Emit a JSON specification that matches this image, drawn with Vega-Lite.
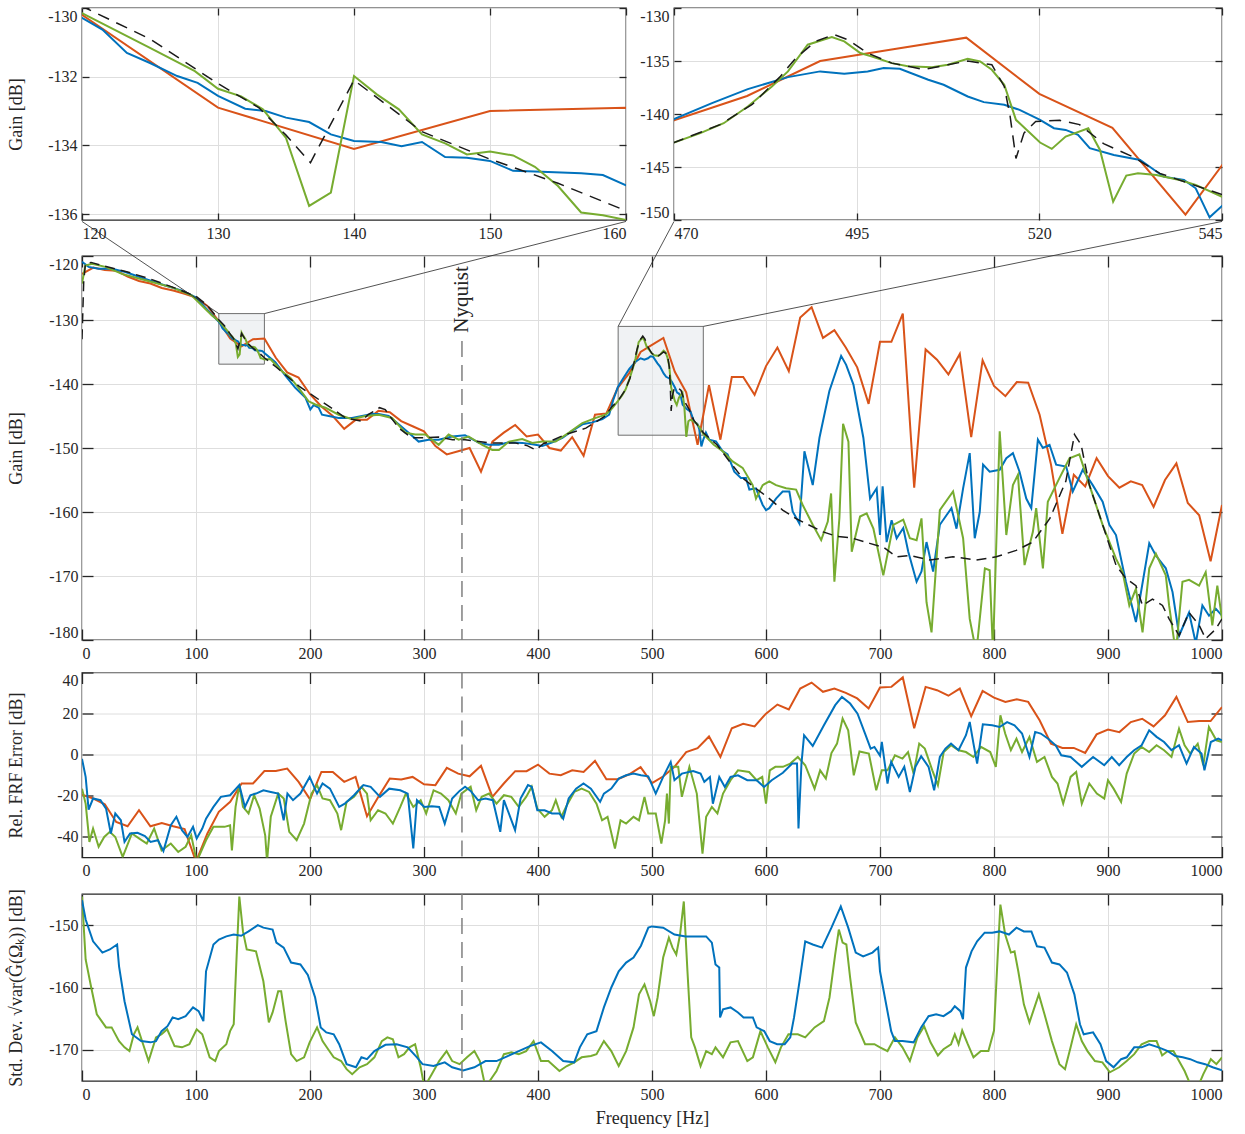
{
"$schema":"https://vega.github.io/schema/vega-lite/v6.json",
"padding":{"left":6,"top":6,"right":4,"bottom":4},
"background":"white",
"config":{
 "font":"Liberation Serif",
 "view":{"stroke":"#262626","strokeWidth":1.3},
 "axis":{"labelFont":"Liberation Serif","labelFontSize":16,"labelColor":"#262626","titleFont":"Liberation Serif","titleFontSize":18,"titleFontWeight":"normal","titleColor":"#262626","gridColor":"#dedede","gridWidth":1,"domain":false,"tickColor":"#262626","tickWidth":1.3,"labelFlush":true,"labelFlushOffset":0},
 "axisTop":{"labels":false,"grid":false},
 "axisRight":{"labels":false,"grid":false}
},
"datasets":{
"mt":[{"f":0,"g":-133},{"f":1.5,"g":-124},{"f":3,"g":-121.2},{"f":8,"g":-121.0},{"f":20,"g":-121.6},{"f":40,"g":-122.5},{"f":60,"g":-123.6},{"f":80,"g":-124.9},{"f":100,"g":-126.3},{"f":110,"g":-127.7},{"f":120,"g":-129.95},{"f":125,"g":-130.9},{"f":130,"g":-132.2},{"f":133,"g":-132.9},{"f":135,"g":-133.7},{"f":136.8,"g":-134.5},{"f":140,"g":-132.1},{"f":145,"g":-133.6},{"f":150,"g":-134.4},{"f":155,"g":-135.1},{"f":160,"g":-135.9},{"f":170,"g":-137.3},{"f":178,"g":-138.5},{"f":190,"g":-140.3},{"f":200,"g":-141.5},{"f":210,"g":-142.7},{"f":220,"g":-143.9},{"f":231,"g":-145.3},{"f":245,"g":-145.8},{"f":251,"g":-144.8},{"f":261,"g":-143.7},{"f":266,"g":-144.0},{"f":270,"g":-145.0},{"f":278,"g":-146.9},{"f":289,"g":-148.4},{"f":301,"g":-148.4},{"f":313,"g":-148.3},{"f":325,"g":-148.7},{"f":336,"g":-148.7},{"f":357,"g":-149.2},{"f":380,"g":-149.2},{"f":390,"g":-149.6},{"f":398,"g":-150.3},{"f":405,"g":-149.3},{"f":410,"g":-149.0},{"f":424,"g":-147.9},{"f":442,"g":-146.9},{"f":459,"g":-145.0},{"f":465,"g":-143.5},{"f":470,"g":-142.7},{"f":476.3,"g":-141.0},{"f":480.7,"g":-139.1},{"f":484.5,"g":-136.5},{"f":486.7,"g":-134.7},{"f":489.4,"g":-133.15},{"f":491.9,"g":-132.5},{"f":493.8,"g":-133.0},{"f":496.5,"g":-134.25},{"f":499.8,"g":-135.2},{"f":504.2,"g":-135.8},{"f":507.5,"g":-135.35},{"f":510.2,"g":-135.0},{"f":513.5,"g":-135.35},{"f":515.2,"g":-137.4},{"f":516,"g":-140.2},{"f":516.8,"g":-144.2},{"f":517.9,"g":-141.8},{"f":519.5,"g":-140.7},{"f":522.8,"g":-140.6},{"f":525.5,"g":-141.0},{"f":528.8,"g":-142.8},{"f":532.7,"g":-144.0},{"f":536.5,"g":-145.6},{"f":540.3,"g":-146.5},{"f":545,"g":-147.6},{"f":557,"g":-149.5},{"f":568,"g":-152.1},{"f":579.5,"g":-154.7},{"f":591,"g":-156.3},{"f":603,"g":-157.9},{"f":614.6,"g":-159.7},{"f":626,"g":-161.0},{"f":635,"g":-161.8},{"f":650,"g":-163.1},{"f":662,"g":-163.8},{"f":674,"g":-164.0},{"f":691,"g":-164.9},{"f":703,"g":-165.5},{"f":714.6,"g":-167.0},{"f":726,"g":-166.8},{"f":744,"g":-167.5},{"f":764,"g":-167.0},{"f":784.5,"g":-167.5},{"f":802,"g":-167.0},{"f":819.5,"g":-166.0},{"f":834,"g":-164.7},{"f":849,"g":-161.0},{"f":863,"g":-155.2},{"f":870.6,"g":-147.9},{"f":876.4,"g":-149.5},{"f":883.7,"g":-155.8},{"f":895.3,"g":-162.0},{"f":907,"g":-168.3},{"f":915.7,"g":-170.4},{"f":924.5,"g":-171.5},{"f":930.3,"g":-174.6},{"f":939,"g":-173.6},{"f":947.8,"g":-174.6},{"f":953.6,"g":-176.7},{"f":962.4,"g":-179.3},{"f":971,"g":-175.7},{"f":980,"g":-177.7},{"f":985.7,"g":-179.8},{"f":994.5,"g":-178.3},{"f":1000,"g":-176.7}],
"mr":[{"f":0,"g":-122.8},{"f":10,"g":-121.8},{"f":20,"g":-122.2},{"f":30,"g":-122.3},{"f":40,"g":-123.2},{"f":50,"g":-123.9},{"f":60,"g":-124.3},{"f":70,"g":-125.0},{"f":80,"g":-125.4},{"f":90,"g":-125.9},{"f":100,"g":-126.5},{"f":110,"g":-127.8},{"f":120,"g":-130.2},{"f":130,"g":-132.9},{"f":140,"g":-134.1},{"f":150,"g":-133.0},{"f":160,"g":-132.9},{"f":170,"g":-135.9},{"f":180,"g":-138.2},{"f":190,"g":-139.0},{"f":200,"g":-141.6},{"f":210,"g":-143.5},{"f":220,"g":-145.0},{"f":230,"g":-147.0},{"f":240,"g":-145.6},{"f":250,"g":-145.6},{"f":260,"g":-144.2},{"f":270,"g":-144.4},{"f":280,"g":-145.8},{"f":290,"g":-146.6},{"f":300,"g":-147.4},{"f":310,"g":-149.7},{"f":320,"g":-151.0},{"f":330,"g":-150.5},{"f":340,"g":-150.0},{"f":350,"g":-153.7},{"f":360,"g":-149.0},{"f":370,"g":-147.6},{"f":380,"g":-146.4},{"f":390,"g":-148.2},{"f":400,"g":-147.9},{"f":410,"g":-150.0},{"f":420,"g":-150.4},{"f":430,"g":-148.3},{"f":440,"g":-151.2},{"f":450,"g":-144.8},{"f":460,"g":-144.6},{"f":470,"g":-140.6},{"f":480,"g":-138.3},{"f":490,"g":-135.0},{"f":500,"g":-133.9},{"f":510,"g":-132.8},{"f":520,"g":-138.1},{"f":530,"g":-141.3},{"f":540,"g":-149.5},{"f":550,"g":-140.2},{"f":560,"g":-148.7},{"f":570,"g":-138.9},{"f":580,"g":-138.9},{"f":590,"g":-141.7},{"f":600,"g":-137.2},{"f":610,"g":-134.3},{"f":620,"g":-138.0},{"f":630,"g":-129.6},{"f":640,"g":-128.0},{"f":650,"g":-132.8},{"f":660,"g":-131.6},{"f":670,"g":-134.3},{"f":680,"g":-137.4},{"f":690,"g":-143.1},{"f":700,"g":-133.4},{"f":710,"g":-133.4},{"f":720,"g":-129.0},{"f":730,"g":-156.2},{"f":740,"g":-134.6},{"f":750,"g":-136.2},{"f":760,"g":-138.5},{"f":770,"g":-135.3},{"f":780,"g":-148.3},{"f":790,"g":-136.3},{"f":800,"g":-140.3},{"f":810,"g":-141.9},{"f":820,"g":-139.7},{"f":830,"g":-139.8},{"f":840,"g":-144.8},{"f":850,"g":-152.6},{"f":860,"g":-163.4},{"f":870,"g":-154.2},{"f":880,"g":-156.0},{"f":890,"g":-151.6},{"f":900,"g":-154.4},{"f":910,"g":-156.2},{"f":920,"g":-155.2},{"f":930,"g":-155.8},{"f":940,"g":-159.2},{"f":950,"g":-155.0},{"f":960,"g":-152.4},{"f":970,"g":-158.6},{"f":980,"g":-160.5},{"f":990,"g":-167.7},{"f":1000,"g":-158.9}],
"mb":[{"f":0,"g":-120.9},{"f":5.8,"g":-121.7},{"f":14.6,"g":-122.0},{"f":26.3,"g":-122.0},{"f":38,"g":-122.5},{"f":55.6,"g":-123.6},{"f":73,"g":-124.6},{"f":87.7,"g":-125.4},{"f":99.4,"g":-126.4},{"f":110.5,"g":-128.5},{"f":120,"g":-130.29},{"f":121.5,"g":-130.63},{"f":123.3,"g":-131.31},{"f":125,"g":-131.6},{"f":127,"g":-131.98},{"f":128.5,"g":-132.18},{"f":130,"g":-132.56},{"f":132,"g":-132.93},{"f":133.5,"g":-133.0},{"f":135,"g":-133.19},{"f":136.7,"g":-133.32},{"f":138.3,"g":-133.68},{"f":140,"g":-133.87},{"f":142,"g":-133.9},{"f":143.5,"g":-134.02},{"f":145,"g":-133.9},{"f":146.7,"g":-134.34},{"f":148.3,"g":-134.36},{"f":150,"g":-134.45},{"f":151.7,"g":-134.74},{"f":153.3,"g":-134.76},{"f":156.7,"g":-134.81},{"f":158.3,"g":-134.86},{"f":160,"g":-135.16},{"f":169.6,"g":-136.6},{"f":178.4,"g":-138.7},{"f":187.1,"g":-140.6},{"f":195.9,"g":-142.1},{"f":200.3,"g":-144.0},{"f":203.2,"g":-143.3},{"f":207.6,"g":-143.7},{"f":210.5,"g":-144.8},{"f":216.4,"g":-145.0},{"f":225.1,"g":-145.3},{"f":236.8,"g":-145.3},{"f":245.6,"g":-145.0},{"f":254.4,"g":-144.7},{"f":260.2,"g":-144.7},{"f":269,"g":-145.0},{"f":277.8,"g":-146.3},{"f":286.5,"g":-147.6},{"f":295.3,"g":-149.0},{"f":304.1,"g":-148.7},{"f":312.9,"g":-148.7},{"f":324.6,"g":-148.2},{"f":336,"g":-148.0},{"f":348.2,"g":-149.2},{"f":357,"g":-149.5},{"f":365.7,"g":-149.5},{"f":374.5,"g":-149.1},{"f":386.2,"g":-149.2},{"f":395,"g":-149.4},{"f":403.8,"g":-149.7},{"f":412.6,"g":-149.1},{"f":421.4,"g":-148.4},{"f":430.2,"g":-147.3},{"f":439,"g":-146.3},{"f":447.7,"g":-146.0},{"f":456.5,"g":-145.5},{"f":462.4,"g":-144.8},{"f":466,"g":-142.5},{"f":470,"g":-140.49},{"f":475.2,"g":-138.98},{"f":480.1,"g":-137.65},{"f":485.6,"g":-136.52},{"f":490,"g":-135.98},{"f":493.3,"g":-136.2},{"f":496.5,"g":-135.98},{"f":498.7,"g":-135.67},{"f":500.9,"g":-135.73},{"f":504.8,"g":-136.77},{"f":506.9,"g":-137.24},{"f":510.2,"g":-138.35},{"f":512.4,"g":-138.88},{"f":515.2,"g":-139.13},{"f":517.3,"g":-139.61},{"f":520.1,"g":-140.55},{"f":522,"g":-141.34},{"f":523.6,"g":-141.5},{"f":525.3,"g":-141.97},{"f":526.9,"g":-143.23},{"f":530.2,"g":-143.86},{"f":533.8,"g":-144.33},{"f":535.4,"g":-145.12},{"f":537,"g":-145.91},{"f":539.8,"g":-146.22},{"f":541.4,"g":-147.01},{"f":543.3,"g":-149.75},{"f":545,"g":-148.68},{"f":547.3,"g":-147.6},{"f":550.2,"g":-148.7},{"f":556.1,"g":-148.95},{"f":562,"g":-150.5},{"f":566.3,"g":-151.0},{"f":572.2,"g":-153.7},{"f":578,"g":-154.7},{"f":582.4,"g":-154.7},{"f":585.4,"g":-156.5},{"f":591.2,"g":-156.3},{"f":597.1,"g":-158.9},{"f":600,"g":-159.7},{"f":602.9,"g":-159.4},{"f":608.8,"g":-157.9},{"f":614.6,"g":-156.8},{"f":620.5,"g":-156.8},{"f":623.4,"g":-159.9},{"f":629.3,"g":-161.8},{"f":633.7,"g":-150.5},{"f":641,"g":-155.8},{"f":646.9,"g":-148.4},{"f":655.6,"g":-141.1},{"f":665.9,"g":-135.6},{"f":670.3,"g":-137.0},{"f":676.7,"g":-140.1},{"f":685.4,"g":-148.4},{"f":691.3,"g":-157.9},{"f":697.1,"g":-156.3},{"f":700,"g":-163.6},{"f":702.3,"g":-156.0},{"f":705.8,"g":-164.7},{"f":710.2,"g":-161.3},{"f":714.6,"g":-164.1},{"f":720.4,"g":-162.5},{"f":724.8,"g":-166.2},{"f":732.1,"g":-170.9},{"f":736.4,"g":-169.3},{"f":740.8,"g":-164.7},{"f":746.6,"g":-169.3},{"f":752.5,"g":-162.0},{"f":758.3,"g":-160.5},{"f":762.7,"g":-159.4},{"f":767.1,"g":-162.6},{"f":772.9,"g":-156.3},{"f":778.7,"g":-150.8},{"f":783.1,"g":-164.1},{"f":787.5,"g":-160.0},{"f":790.4,"g":-152.6},{"f":796.2,"g":-153.7},{"f":805,"g":-153.4},{"f":810.8,"g":-151.6},{"f":816.6,"g":-150.8},{"f":822.4,"g":-153.7},{"f":828.3,"g":-157.9},{"f":832.7,"g":-159.4},{"f":838.5,"g":-148.7},{"f":842.9,"g":-150.0},{"f":848.7,"g":-149.5},{"f":854.5,"g":-152.6},{"f":863.3,"g":-152.9},{"f":869.1,"g":-156.8},{"f":877.8,"g":-153.4},{"f":886.6,"g":-155.8},{"f":895.3,"g":-158.4},{"f":901.2,"g":-162.0},{"f":907,"g":-163.6},{"f":915.7,"g":-170.9},{"f":924.5,"g":-177.2},{"f":936.2,"g":-164.9},{"f":942,"g":-166.8},{"f":950.7,"g":-168.8},{"f":956.6,"g":-172.5},{"f":962.4,"g":-179.3},{"f":971.1,"g":-175.7},{"f":977,"g":-180.5},{"f":982.8,"g":-174.6},{"f":988.6,"g":-176.2},{"f":994.5,"g":-175.1},{"f":1000,"g":-176.2}],
"mg":[{"f":0,"g":-124.3},{"f":2.9,"g":-121.5},{"f":8.8,"g":-121.2},{"f":20.5,"g":-121.7},{"f":35.1,"g":-122.8},{"f":55.6,"g":-123.8},{"f":78.9,"g":-124.9},{"f":96.5,"g":-126.2},{"f":114,"g":-129.3},{"f":120,"g":-130.15},{"f":125,"g":-131.16},{"f":128.3,"g":-131.84},{"f":130,"g":-132.35},{"f":131.7,"g":-132.57},{"f":133.3,"g":-132.95},{"f":135,"g":-133.78},{"f":136.7,"g":-135.76},{"f":138.3,"g":-135.37},{"f":140,"g":-131.98},{"f":141.7,"g":-132.52},{"f":143.3,"g":-132.95},{"f":145,"g":-133.68},{"f":146.7,"g":-133.94},{"f":148.3,"g":-134.26},{"f":150,"g":-134.18},{"f":151.7,"g":-134.29},{"f":153.3,"g":-134.62},{"f":155,"g":-135.18},{"f":156.7,"g":-135.95},{"f":158.3,"g":-136.03},{"f":160,"g":-136.17},{"f":165.2,"g":-136.1},{"f":175.4,"g":-138.0},{"f":182.7,"g":-139.0},{"f":190,"g":-140.6},{"f":198.8,"g":-142.7},{"f":204.7,"g":-143.2},{"f":213.5,"g":-143.7},{"f":225.1,"g":-144.8},{"f":236.8,"g":-145.5},{"f":248.5,"g":-145.0},{"f":260.2,"g":-144.8},{"f":271.9,"g":-145.3},{"f":283.6,"g":-147.6},{"f":292.4,"g":-147.9},{"f":301.2,"g":-147.9},{"f":312.9,"g":-149.5},{"f":321.6,"g":-147.9},{"f":330.4,"g":-148.7},{"f":339.2,"g":-148.2},{"f":351.1,"g":-149.5},{"f":359.9,"g":-150.3},{"f":365.7,"g":-150.3},{"f":374.5,"g":-149.0},{"f":386.2,"g":-148.6},{"f":395,"g":-149.2},{"f":403.8,"g":-149.0},{"f":415.5,"g":-149.0},{"f":427.2,"g":-147.6},{"f":438.9,"g":-146.1},{"f":450.7,"g":-145.3},{"f":459.4,"g":-144.8},{"f":465,"g":-143.8},{"f":470,"g":-142.69},{"f":473.6,"g":-141.81},{"f":476.8,"g":-140.87},{"f":480.1,"g":-139.29},{"f":483.4,"g":-137.4},{"f":485.6,"g":-135.98},{"f":488.3,"g":-133.46},{"f":491.6,"g":-132.74},{"f":493.3,"g":-133.15},{"f":495.5,"g":-134.25},{"f":497.1,"g":-134.57},{"f":499.8,"g":-135.2},{"f":502,"g":-135.5},{"f":505.3,"g":-135.6},{"f":507.5,"g":-135.35},{"f":510.2,"g":-134.79},{"f":511.9,"g":-135.04},{"f":513.5,"g":-135.83},{"f":515.2,"g":-137.24},{"f":516.8,"g":-140.55},{"f":520.1,"g":-142.69},{"f":521.7,"g":-143.29},{"f":523.6,"g":-142.13},{"f":526.7,"g":-141.34},{"f":528.3,"g":-143.39},{"f":530.1,"g":-148.27},{"f":531.9,"g":-145.81},{"f":533.5,"g":-145.59},{"f":536,"g":-145.75},{"f":539.2,"g":-146.22},{"f":541.4,"g":-146.69},{"f":545,"g":-147.8},{"f":554.2,"g":-149.5},{"f":562,"g":-150.5},{"f":570.7,"g":-152.1},{"f":579.5,"g":-153.1},{"f":588.3,"g":-155.8},{"f":591.2,"g":-157.9},{"f":597.1,"g":-155.8},{"f":602.9,"g":-155.2},{"f":608.8,"g":-155.8},{"f":617.6,"g":-156.3},{"f":626.4,"g":-156.5},{"f":632.2,"g":-158.9},{"f":641,"g":-162.0},{"f":648.4,"g":-164.4},{"f":654.2,"g":-161.5},{"f":657.1,"g":-157.1},{"f":660,"g":-170.9},{"f":664.4,"g":-160.9},{"f":667.6,"g":-146.2},{"f":672.3,"g":-149.0},{"f":675.2,"g":-166.2},{"f":682.5,"g":-160.7},{"f":688.3,"g":-160.2},{"f":694.2,"g":-162.6},{"f":702.9,"g":-169.9},{"f":711.7,"g":-162.0},{"f":720.4,"g":-161.2},{"f":726.2,"g":-164.1},{"f":732.1,"g":-164.4},{"f":736.4,"g":-161.0},{"f":740.8,"g":-174.1},{"f":745.2,"g":-178.8},{"f":752.5,"g":-159.7},{"f":764.1,"g":-156.8},{"f":772.9,"g":-164.1},{"f":778.7,"g":-176.7},{"f":784.5,"g":-182},{"f":792,"g":-168.8},{"f":796.2,"g":-169.1},{"f":799.1,"g":-182},{"f":805,"g":-147.4},{"f":810.8,"g":-163.6},{"f":816.6,"g":-155.8},{"f":821,"g":-154.2},{"f":826.8,"g":-168.3},{"f":834.1,"g":-163.1},{"f":837,"g":-159.4},{"f":842.9,"g":-168.8},{"f":847.2,"g":-158.4},{"f":857.4,"g":-154.7},{"f":866.2,"g":-151.6},{"f":874.9,"g":-151.0},{"f":883.7,"g":-155.8},{"f":895.3,"g":-162.0},{"f":907,"g":-167.3},{"f":912.8,"g":-169.4},{"f":918.7,"g":-174.6},{"f":924.5,"g":-172.0},{"f":930.3,"g":-178.8},{"f":936.2,"g":-168.8},{"f":942,"g":-166.5},{"f":950.7,"g":-169.9},{"f":953.6,"g":-174.6},{"f":959.5,"g":-182},{"f":965.3,"g":-170.9},{"f":971.1,"g":-170.6},{"f":979.9,"g":-171.5},{"f":985.7,"g":-169.4},{"f":991.5,"g":-177.7},{"f":995.9,"g":-171.5},{"f":1000,"g":-176.7}],
"er":[{"f":0,"g":-19.5},{"f":10,"g":-21.3},{"f":20,"g":-24.1},{"f":30,"g":-32.7},{"f":40,"g":-34.8},{"f":50,"g":-27.0},{"f":60,"g":-34.8},{"f":70,"g":-33.2},{"f":80,"g":-34.8},{"f":90,"g":-36.2},{"f":100,"g":-52},{"f":110,"g":-38.3},{"f":120,"g":-27.8},{"f":130,"g":-22.9},{"f":140,"g":-14.0},{"f":150,"g":-14.0},{"f":160,"g":-7.9},{"f":170,"g":-7.9},{"f":180,"g":-6.7},{"f":190,"g":-13.2},{"f":200,"g":-21.7},{"f":210,"g":-8.4},{"f":220,"g":-8.4},{"f":230,"g":-13.2},{"f":240,"g":-10.8},{"f":250,"g":-29.9},{"f":260,"g":-20.5},{"f":270,"g":-11.6},{"f":280,"g":-12.1},{"f":290,"g":-10.8},{"f":300,"g":-14.4},{"f":310,"g":-14.8},{"f":320,"g":-6.4},{"f":330,"g":-9.2},{"f":340,"g":-10.5},{"f":350,"g":-5.4},{"f":360,"g":-20.5},{"f":370,"g":-14.0},{"f":380,"g":-8.0},{"f":390,"g":-8.0},{"f":400,"g":-4.8},{"f":410,"g":-9.2},{"f":420,"g":-10.0},{"f":430,"g":-7.6},{"f":440,"g":-8.4},{"f":450,"g":-3.0},{"f":460,"g":-11.9},{"f":470,"g":-11.9},{"f":480,"g":-9.5},{"f":490,"g":-6.0},{"f":500,"g":-13.8},{"f":510,"g":-10.5},{"f":520,"g":-5.7},{"f":530,"g":1.3},{"f":540,"g":3.2},{"f":550,"g":8.9},{"f":560,"g":-1.1},{"f":570,"g":12.9},{"f":580,"g":15.0},{"f":590,"g":13.8},{"f":600,"g":20.0},{"f":610,"g":24.4},{"f":620,"g":22.0},{"f":630,"g":32.2},{"f":640,"g":35.1},{"f":650,"g":30.6},{"f":660,"g":32.2},{"f":670,"g":30.1},{"f":680,"g":27.4},{"f":690,"g":22.5},{"f":700,"g":32.7},{"f":710,"g":33.0},{"f":720,"g":37.6},{"f":730,"g":12.9},{"f":740,"g":33.0},{"f":750,"g":31.4},{"f":760,"g":28.7},{"f":770,"g":32.2},{"f":780,"g":18.7},{"f":790,"g":31.0},{"f":800,"g":27.8},{"f":810,"g":25.7},{"f":820,"g":27.0},{"f":830,"g":25.7},{"f":840,"g":16.8},{"f":850,"g":5.4},{"f":860,"g":3.3},{"f":870,"g":3.3},{"f":880,"g":0.9},{"f":890,"g":9.9},{"f":900,"g":12.2},{"f":910,"g":11.0},{"f":920,"g":15.9},{"f":930,"g":17.5},{"f":940,"g":13.8},{"f":950,"g":19.2},{"f":960,"g":28.1},{"f":970,"g":15.9},{"f":980,"g":16.4},{"f":990,"g":16.4},{"f":1000,"g":23.2}],
"eb":[{"f":0,"g":-2},{"f":3.2,"g":-10.8},{"f":5.8,"g":-26.7},{"f":9.7,"g":-21.3},{"f":16.2,"g":-22.1},{"f":21.1,"g":-26.2},{"f":25.3,"g":-38.3},{"f":29.2,"g":-28.6},{"f":34.1,"g":-31.9},{"f":37.3,"g":-42.4},{"f":42.2,"g":-38.3},{"f":48.7,"g":-38.0},{"f":55.2,"g":-39.6},{"f":60.1,"g":-42.4},{"f":66.6,"g":-41.6},{"f":71.4,"g":-46.8},{"f":77.9,"g":-34.3},{"f":82.8,"g":-30.2},{"f":87.7,"g":-36.7},{"f":92.5,"g":-40.0},{"f":97.4,"g":-35.1},{"f":100.6,"g":-40.8},{"f":105.5,"g":-35.9},{"f":108.8,"g":-31.1},{"f":115.3,"g":-25.4},{"f":121.8,"g":-20.5},{"f":129.9,"g":-19.7},{"f":138,"g":-14.8},{"f":142.9,"g":-25.4},{"f":147.7,"g":-19.7},{"f":152.6,"g":-18.9},{"f":159.1,"g":-17.3},{"f":165.6,"g":-18.1},{"f":172.1,"g":-18.9},{"f":176.9,"g":-31.9},{"f":180.2,"g":-18.9},{"f":185.1,"g":-22.1},{"f":191.6,"g":-18.9},{"f":199.7,"g":-10.8},{"f":206.2,"g":-18.9},{"f":211,"g":-14.0},{"f":217.5,"g":-16.5},{"f":225.6,"g":-25.4},{"f":230.5,"g":-23.8},{"f":238.6,"g":-19.7},{"f":246.8,"g":-14.8},{"f":253.2,"g":-15.6},{"f":261.4,"g":-20.5},{"f":269.5,"g":-16.5},{"f":279.2,"g":-17.3},{"f":285.7,"g":-18.9},{"f":290.6,"g":-45.6},{"f":293.8,"g":-22.1},{"f":300.3,"g":-25.4},{"f":306.8,"g":-25.1},{"f":313.3,"g":-25.4},{"f":318.2,"g":-33.5},{"f":324.7,"g":-21.3},{"f":331.2,"g":-17.6},{"f":336,"g":-15.6},{"f":340.9,"g":-17.6},{"f":347.4,"g":-22.1},{"f":353.9,"g":-21.3},{"f":360.4,"g":-22.1},{"f":366.9,"g":-37.5},{"f":370.1,"g":-22.1},{"f":379.9,"g":-36.7},{"f":384.7,"g":-21.3},{"f":391.2,"g":-14.8},{"f":394.5,"g":-15.6},{"f":399.4,"g":-27.0},{"f":405.8,"g":-27.0},{"f":412.3,"g":-28.6},{"f":418.8,"g":-28.6},{"f":422.1,"g":-31.1},{"f":426.9,"g":-21.3},{"f":433.4,"g":-16.5},{"f":439.9,"g":-14.0},{"f":446.4,"g":-16.5},{"f":454.5,"g":-22.9},{"f":457.8,"g":-18.9},{"f":464.3,"g":-16.5},{"f":470.8,"g":-11.6},{"f":477.3,"g":-10.0},{"f":483.8,"g":-9.2},{"f":490.3,"g":-10.0},{"f":496.7,"g":-10.5},{"f":503.3,"g":-18.9},{"f":509.8,"g":-10.8},{"f":516.4,"g":-3.5},{"f":519.7,"g":-12.4},{"f":526.2,"g":-9.2},{"f":536.1,"g":-7.9},{"f":542.6,"g":-9.2},{"f":545.9,"g":-13.2},{"f":550.8,"g":-10.8},{"f":553.4,"g":-23.8},{"f":559,"g":-10.8},{"f":563.9,"g":-15.7},{"f":568.9,"g":-10.8},{"f":575.4,"g":-10.0},{"f":583.6,"g":-12.4},{"f":591.8,"g":-12.4},{"f":598.4,"g":-15.7},{"f":605,"g":-12.4},{"f":614.8,"g":-8.8},{"f":623,"g":-4.3},{"f":627.2,"g":-4.3},{"f":628.5,"g":-35.9},{"f":631.1,"g":-4.3},{"f":633.4,"g":9.5},{"f":641,"g":4.3},{"f":650.8,"g":14.3},{"f":660.7,"g":24.1},{"f":666.6,"g":28.1},{"f":673.8,"g":24.9},{"f":680.3,"g":20.0},{"f":686.9,"g":10.3},{"f":691.8,"g":3.0},{"f":695.1,"g":3.8},{"f":700,"g":-0.5},{"f":701.6,"g":6.2},{"f":706.6,"g":-14.0},{"f":709.8,"g":-3.5},{"f":716.4,"g":-10.8},{"f":721.3,"g":-5.9},{"f":726.2,"g":-18.1},{"f":731.1,"g":-5.9},{"f":736.1,"g":-0.7},{"f":742.6,"g":-5.9},{"f":747.5,"g":-17.3},{"f":752.5,"g":-1.1},{"f":757.4,"g":3.0},{"f":762.3,"g":5.4},{"f":768.9,"g":2.2},{"f":775.4,"g":9.5},{"f":778.7,"g":15.9},{"f":782,"g":5.4},{"f":785.2,"g":-4.3},{"f":790.2,"g":14.8},{"f":798.4,"g":14.3},{"f":804.9,"g":13.5},{"f":811.5,"g":15.9},{"f":818,"g":14.3},{"f":824.6,"g":10.3},{"f":831.1,"g":-1.1},{"f":836.1,"g":11.1},{"f":841,"g":10.3},{"f":847.5,"g":7.8},{"f":854.1,"g":4.6},{"f":859,"g":-0.3},{"f":867.2,"g":-1.1},{"f":877,"g":-5.9},{"f":886.9,"g":-1.1},{"f":896.7,"g":-5.1},{"f":903.3,"g":-1.1},{"f":909.8,"g":-5.1},{"f":916.4,"g":-1.1},{"f":922.9,"g":2.2},{"f":929.5,"g":4.6},{"f":936.1,"g":11.9},{"f":942.6,"g":8.7},{"f":949.2,"g":6.2},{"f":955.7,"g":2.2},{"f":962.3,"g":4.6},{"f":968.9,"g":-4.3},{"f":975.4,"g":3.8},{"f":982,"g":0.6},{"f":984.6,"g":-7.6},{"f":990.2,"g":6.2},{"f":996.7,"g":7.8},{"f":1000,"g":7.0}],
"eg":[{"f":0,"g":-16.5},{"f":3.2,"g":-23.8},{"f":6.5,"g":-42.4},{"f":9.7,"g":-35.9},{"f":14.6,"g":-44.8},{"f":19.5,"g":-40.0},{"f":24.4,"g":-37.5},{"f":29.2,"g":-40.0},{"f":35.7,"g":-49.7},{"f":43.8,"g":-38.3},{"f":50.3,"g":-40.8},{"f":56.8,"g":-43.2},{"f":63.3,"g":-35.9},{"f":69.8,"g":-46.5},{"f":77.9,"g":-43.2},{"f":84.4,"g":-47.3},{"f":90.9,"g":-44.8},{"f":95.8,"g":-39.2},{"f":100.6,"g":-52},{"f":108.8,"g":-41.6},{"f":115.3,"g":-35.1},{"f":125,"g":-35.1},{"f":129.9,"g":-34.3},{"f":131.5,"g":-46.5},{"f":134.7,"g":-25.4},{"f":138,"g":-14.8},{"f":141.2,"g":-25.4},{"f":146.1,"g":-28.6},{"f":151,"g":-19.7},{"f":155.8,"g":-26.2},{"f":160.7,"g":-39.2},{"f":162.3,"g":-52},{"f":165.6,"g":-30.2},{"f":172.1,"g":-18.9},{"f":177,"g":-21.3},{"f":181.8,"g":-37.5},{"f":188.3,"g":-41.6},{"f":194.8,"g":-33.5},{"f":201.3,"g":-18.9},{"f":206.2,"g":-14.8},{"f":211,"g":-21.3},{"f":217.5,"g":-22.1},{"f":224,"g":-28.6},{"f":227.3,"g":-36.7},{"f":232.1,"g":-22.9},{"f":238.6,"g":-20.5},{"f":245.1,"g":-15.6},{"f":250,"g":-18.9},{"f":253.2,"g":-31.9},{"f":259.7,"g":-27.0},{"f":266.2,"g":-28.6},{"f":272.7,"g":-33.5},{"f":279.2,"g":-25.4},{"f":284.1,"g":-18.9},{"f":290.6,"g":-25.4},{"f":297.1,"g":-22.1},{"f":301.9,"g":-28.6},{"f":308.4,"g":-17.3},{"f":314.9,"g":-18.9},{"f":321.4,"g":-22.1},{"f":327.9,"g":-28.6},{"f":332.8,"g":-18.9},{"f":340.9,"g":-15.6},{"f":345.8,"g":-27.0},{"f":350.6,"g":-20.5},{"f":357.1,"g":-18.9},{"f":363.6,"g":-23.8},{"f":370.1,"g":-19.7},{"f":376.6,"g":-20.5},{"f":383.1,"g":-25.4},{"f":389.6,"g":-20.5},{"f":394.5,"g":-15.6},{"f":399.4,"g":-26.2},{"f":405.8,"g":-30.2},{"f":412.3,"g":-27.0},{"f":415.6,"g":-22.1},{"f":420.5,"g":-30.2},{"f":425.3,"g":-24.6},{"f":431.8,"g":-18.1},{"f":438.3,"g":-16.5},{"f":444.8,"g":-18.1},{"f":451.3,"g":-23.8},{"f":456.2,"g":-31.9},{"f":461,"g":-30.2},{"f":467.5,"g":-45.6},{"f":472.4,"g":-31.9},{"f":477.3,"g":-33.5},{"f":483.8,"g":-30.2},{"f":488.6,"g":-31.9},{"f":493.4,"g":-20.5},{"f":496.7,"g":-28.6},{"f":503.3,"g":-28.6},{"f":508.2,"g":-43.2},{"f":511.5,"g":-31.9},{"f":513.1,"g":-18.9},{"f":514.8,"g":-33.5},{"f":516.4,"g":-5.9},{"f":523,"g":-5.9},{"f":526.2,"g":-20.5},{"f":532.8,"g":-5.9},{"f":539.3,"g":-18.9},{"f":544.3,"g":-48.1},{"f":547.5,"g":-30.2},{"f":552.5,"g":-25.4},{"f":557.4,"g":-28.6},{"f":562.3,"g":-18.9},{"f":568.9,"g":-12.4},{"f":575.4,"g":-7.6},{"f":585.2,"g":-8.4},{"f":591.8,"g":-12.4},{"f":596.7,"g":-10.8},{"f":600,"g":-23.8},{"f":603.3,"g":-7.6},{"f":608.2,"g":-5.9},{"f":614.8,"g":-5.9},{"f":621.3,"g":-4.3},{"f":627.9,"g":-1.1},{"f":634.4,"g":-5.1},{"f":642.6,"g":-16.5},{"f":647.5,"g":-7.6},{"f":652.5,"g":-11.6},{"f":657.4,"g":0.8},{"f":662.3,"g":5.4},{"f":667.2,"g":17.6},{"f":672.1,"g":11.9},{"f":677,"g":-10.0},{"f":682,"g":1.6},{"f":690.2,"g":0.6},{"f":696.7,"g":-17.3},{"f":701.6,"g":-7.6},{"f":706.6,"g":-7.6},{"f":713.1,"g":-0.3},{"f":719.7,"g":-1.9},{"f":724.6,"g":1.3},{"f":729.5,"g":-9.2},{"f":734.4,"g":5.4},{"f":739.3,"g":3.0},{"f":745.9,"g":-7.6},{"f":750.8,"g":-14.8},{"f":755.9,"g":1.3},{"f":762.3,"g":4.6},{"f":768.9,"g":2.2},{"f":775.4,"g":1.3},{"f":782,"g":-1.1},{"f":788.5,"g":3.8},{"f":796.7,"g":1.3},{"f":801.6,"g":-5.9},{"f":805.6,"g":19.2},{"f":809.8,"g":10.3},{"f":814.8,"g":2.2},{"f":819.7,"g":7.8},{"f":824.6,"g":1.3},{"f":831.1,"g":8.6},{"f":837.7,"g":-3.5},{"f":844.3,"g":-1.1},{"f":850.8,"g":-10.8},{"f":855.7,"g":-14.0},{"f":860.7,"g":-23.8},{"f":867.2,"g":-10.8},{"f":872.1,"g":-8.4},{"f":877,"g":-23.8},{"f":883.6,"g":-14.0},{"f":890.2,"g":-18.9},{"f":896.7,"g":-21.3},{"f":900,"g":-12.4},{"f":904.9,"g":-16.5},{"f":911.5,"g":-23.0},{"f":916.4,"g":-9.2},{"f":923,"g":0.6},{"f":929.5,"g":3.8},{"f":936.1,"g":1.3},{"f":942.6,"g":4.6},{"f":949.2,"g":2.2},{"f":955.7,"g":-1.1},{"f":962.3,"g":12.7},{"f":967.2,"g":4.6},{"f":972.1,"g":0.6},{"f":978.7,"g":5.4},{"f":983.6,"g":-5.1},{"f":988.5,"g":13.5},{"f":995.1,"g":7.0},{"f":1000,"g":6.2}],
"sb":[{"f":0,"g":-146},{"f":3.2,"g":-149.1},{"f":9.7,"g":-152.6},{"f":17.9,"g":-154.4},{"f":24.4,"g":-153.9},{"f":30.8,"g":-153.1},{"f":32.5,"g":-156.6},{"f":37.3,"g":-162.2},{"f":43.8,"g":-167.5},{"f":51.9,"g":-168.6},{"f":60.1,"g":-168.8},{"f":64.9,"g":-168.6},{"f":69.8,"g":-167.0},{"f":75,"g":-166.2},{"f":79.5,"g":-164.8},{"f":84.4,"g":-165.1},{"f":90.9,"g":-164.6},{"f":97.4,"g":-163.2},{"f":102.3,"g":-163.8},{"f":106.5,"g":-165.4},{"f":108.8,"g":-157.4},{"f":115.3,"g":-153.1},{"f":120.1,"g":-152.3},{"f":126.6,"g":-151.8},{"f":133.1,"g":-151.5},{"f":139.6,"g":-151.7},{"f":146.1,"g":-151.0},{"f":154.2,"g":-150.0},{"f":159.1,"g":-150.4},{"f":167.2,"g":-150.7},{"f":170.5,"g":-152.8},{"f":176.9,"g":-153.6},{"f":183.4,"g":-156.0},{"f":191.6,"g":-156.3},{"f":198.1,"g":-158.0},{"f":204.5,"g":-161.6},{"f":209.4,"g":-166.4},{"f":214.3,"g":-167.2},{"f":220.8,"g":-167.5},{"f":225.6,"g":-169.1},{"f":232.1,"g":-172.3},{"f":240.3,"g":-172.8},{"f":245.1,"g":-171.2},{"f":250,"g":-171.5},{"f":256.5,"g":-170.2},{"f":266.2,"g":-169.2},{"f":276,"g":-169.1},{"f":285.7,"g":-169.6},{"f":293.8,"g":-171.2},{"f":298.7,"g":-172.3},{"f":308.4,"g":-172.6},{"f":318.2,"g":-172.0},{"f":324.7,"g":-172.8},{"f":334.4,"g":-173.3},{"f":344.2,"g":-172.8},{"f":353.9,"g":-171.8},{"f":363.6,"g":-171.8},{"f":373.4,"g":-171.0},{"f":383.1,"g":-170.2},{"f":392.9,"g":-169.4},{"f":402.6,"g":-168.8},{"f":412.3,"g":-170.2},{"f":422.1,"g":-171.8},{"f":431.8,"g":-172.0},{"f":436.7,"g":-169.6},{"f":443.2,"g":-167.5},{"f":451.3,"g":-167.0},{"f":457.8,"g":-163.2},{"f":464.3,"g":-160.0},{"f":470.8,"g":-157.4},{"f":477.3,"g":-156.0},{"f":483.8,"g":-155.2},{"f":490.3,"g":-153.3},{"f":496.8,"g":-150.4},{"f":500,"g":-150.2},{"f":509.8,"g":-150.4},{"f":519.7,"g":-151.5},{"f":529.5,"g":-151.8},{"f":539.3,"g":-151.8},{"f":547.5,"g":-151.8},{"f":552.5,"g":-152.8},{"f":555.7,"g":-156.3},{"f":559,"g":-156.8},{"f":559.7,"g":-164.8},{"f":562.3,"g":-163.5},{"f":568.9,"g":-163.2},{"f":575.4,"g":-164.0},{"f":580.3,"g":-164.8},{"f":588.5,"g":-164.8},{"f":591.8,"g":-166.4},{"f":598.4,"g":-167.0},{"f":603.3,"g":-168.6},{"f":609.8,"g":-169.1},{"f":616.4,"g":-169.1},{"f":621.3,"g":-168.0},{"f":624.6,"g":-164.8},{"f":629.5,"g":-158.9},{"f":634.4,"g":-152.6},{"f":641,"g":-153.1},{"f":649.2,"g":-153.6},{"f":657.4,"g":-150.4},{"f":665.6,"g":-147.0},{"f":672.1,"g":-150.4},{"f":678.7,"g":-154.4},{"f":685.2,"g":-155.0},{"f":693.4,"g":-154.4},{"f":698.4,"g":-153.6},{"f":700,"g":-157.4},{"f":704.9,"g":-162.2},{"f":709.8,"g":-167.0},{"f":713.1,"g":-168.6},{"f":719.7,"g":-168.6},{"f":729.5,"g":-168.8},{"f":736.1,"g":-166.4},{"f":742.6,"g":-164.6},{"f":749.2,"g":-164.3},{"f":755.7,"g":-164.6},{"f":762.3,"g":-163.8},{"f":765.6,"g":-163.0},{"f":770.5,"g":-163.8},{"f":772.8,"g":-165.1},{"f":775.4,"g":-156.8},{"f":780.3,"g":-154.2},{"f":785.2,"g":-152.6},{"f":791.8,"g":-151.2},{"f":798.4,"g":-151.2},{"f":804.9,"g":-151.0},{"f":813.1,"g":-151.5},{"f":819.7,"g":-150.4},{"f":826.2,"g":-151.0},{"f":832.8,"g":-151.0},{"f":837.7,"g":-153.4},{"f":844.3,"g":-153.6},{"f":850.8,"g":-156.0},{"f":857.4,"g":-156.3},{"f":864,"g":-157.6},{"f":870.5,"g":-161.1},{"f":875.4,"g":-165.9},{"f":878.7,"g":-167.5},{"f":886.9,"g":-167.2},{"f":893.4,"g":-169.1},{"f":898.4,"g":-171.8},{"f":904.9,"g":-172.8},{"f":911.5,"g":-171.5},{"f":916.4,"g":-171.2},{"f":923,"g":-169.6},{"f":929.5,"g":-169.6},{"f":936.1,"g":-169.1},{"f":944.3,"g":-169.6},{"f":952.5,"g":-170.2},{"f":959,"g":-171.0},{"f":965.6,"g":-171.2},{"f":972.1,"g":-171.5},{"f":978.7,"g":-172.0},{"f":985.2,"g":-172.3},{"f":991.8,"g":-172.8},{"f":1000,"g":-173.3}],
"sg":[{"f":0,"g":-145.4},{"f":3.2,"g":-155.5},{"f":8.1,"g":-160.0},{"f":13,"g":-164.3},{"f":21.1,"g":-166.4},{"f":26,"g":-166.4},{"f":32.5,"g":-168.6},{"f":37.3,"g":-169.6},{"f":41.6,"g":-170.2},{"f":45.5,"g":-167.5},{"f":48.7,"g":-166.4},{"f":53.6,"g":-169.1},{"f":58.4,"g":-171.8},{"f":64.9,"g":-168.0},{"f":69.8,"g":-167.5},{"f":74.7,"g":-166.7},{"f":81.2,"g":-169.4},{"f":87.7,"g":-169.6},{"f":94.2,"g":-169.1},{"f":100.6,"g":-166.7},{"f":105.5,"g":-167.5},{"f":112,"g":-171.2},{"f":116.9,"g":-171.8},{"f":120.1,"g":-170.2},{"f":126.6,"g":-169.1},{"f":129.9,"g":-167.0},{"f":133.1,"g":-165.9},{"f":135.7,"g":-154.7},{"f":138,"g":-145.4},{"f":141.2,"g":-151.0},{"f":144.5,"g":-153.9},{"f":152.6,"g":-154.2},{"f":159.1,"g":-159.0},{"f":163.9,"g":-165.6},{"f":167.2,"g":-164.0},{"f":172.1,"g":-160.6},{"f":174.7,"g":-160.6},{"f":178.6,"g":-165.4},{"f":183.4,"g":-170.7},{"f":188.3,"g":-171.8},{"f":194.8,"g":-171.2},{"f":199.7,"g":-168.8},{"f":206.2,"g":-166.4},{"f":211,"g":-168.6},{"f":215.9,"g":-169.9},{"f":220.8,"g":-171.2},{"f":227.3,"g":-171.8},{"f":232.1,"g":-173.1},{"f":237,"g":-173.9},{"f":243.5,"g":-172.8},{"f":250,"g":-172.3},{"f":256.5,"g":-171.2},{"f":263,"g":-168.6},{"f":267.9,"g":-168.0},{"f":272.7,"g":-168.3},{"f":277.6,"g":-171.2},{"f":282.5,"g":-170.7},{"f":287.3,"g":-169.6},{"f":292.2,"g":-169.1},{"f":297.1,"g":-172.8},{"f":300.3,"g":-176},{"f":306.8,"g":-173.9},{"f":313.3,"g":-171.8},{"f":319.8,"g":-170.2},{"f":324.7,"g":-171.8},{"f":331.2,"g":-172.3},{"f":337.7,"g":-171.2},{"f":344.2,"g":-170.2},{"f":349,"g":-171.8},{"f":353.9,"g":-176},{"f":363.6,"g":-173.4},{"f":370.1,"g":-170.7},{"f":376.6,"g":-170.4},{"f":383.1,"g":-170.7},{"f":389.6,"g":-170.2},{"f":396.1,"g":-168.6},{"f":402.6,"g":-171.8},{"f":409.1,"g":-171.8},{"f":418.8,"g":-173.4},{"f":425.3,"g":-172.6},{"f":431.8,"g":-172.0},{"f":438.3,"g":-171.2},{"f":446.4,"g":-171.0},{"f":451.3,"g":-170.7},{"f":457.8,"g":-168.6},{"f":464.3,"g":-170.2},{"f":470.8,"g":-172.6},{"f":477.3,"g":-170.2},{"f":483.8,"g":-166.4},{"f":488.6,"g":-161.1},{"f":493.4,"g":-159.5},{"f":498.4,"g":-162.2},{"f":501.6,"g":-164.6},{"f":504.9,"g":-161.6},{"f":509.8,"g":-155.2},{"f":514.8,"g":-152.0},{"f":518,"g":-153.6},{"f":521.3,"g":-154.7},{"f":524.6,"g":-151.5},{"f":527.9,"g":-146.2},{"f":531.1,"g":-157.4},{"f":534.4,"g":-168.0},{"f":537.7,"g":-169.6},{"f":542.6,"g":-172.6},{"f":547.5,"g":-170.2},{"f":552.5,"g":-170.7},{"f":555.7,"g":-169.6},{"f":562.3,"g":-171.2},{"f":568.9,"g":-168.8},{"f":575.4,"g":-168.6},{"f":583.6,"g":-171.8},{"f":588.5,"g":-171.2},{"f":595.1,"g":-167.0},{"f":601.6,"g":-169.6},{"f":608.2,"g":-172.0},{"f":613.1,"g":-169.6},{"f":619.7,"g":-167.5},{"f":627.9,"g":-167.5},{"f":634.4,"g":-168.0},{"f":642.6,"g":-166.4},{"f":650.8,"g":-165.4},{"f":655.7,"g":-161.6},{"f":660.7,"g":-154.7},{"f":663.9,"g":-150.7},{"f":667.2,"g":-152.8},{"f":670.5,"g":-153.1},{"f":673.8,"g":-158.4},{"f":678.7,"g":-165.6},{"f":686.9,"g":-169.1},{"f":695.1,"g":-169.1},{"f":700,"g":-169.6},{"f":706.6,"g":-170.2},{"f":713.1,"g":-168.0},{"f":719.7,"g":-169.6},{"f":726.2,"g":-171.8},{"f":732.8,"g":-168.0},{"f":738.7,"g":-166.2},{"f":744.3,"g":-168.8},{"f":750.8,"g":-170.9},{"f":755.7,"g":-169.9},{"f":762.3,"g":-169.1},{"f":765.6,"g":-167.5},{"f":768.9,"g":-169.1},{"f":772.1,"g":-166.9},{"f":777,"g":-169.1},{"f":782,"g":-171.2},{"f":788.5,"g":-170.2},{"f":795.1,"g":-170.2},{"f":800,"g":-166.9},{"f":803.3,"g":-154.7},{"f":805.6,"g":-146.7},{"f":809.8,"g":-151.5},{"f":814.8,"g":-154.4},{"f":818,"g":-154.2},{"f":821.3,"g":-157.4},{"f":826.2,"g":-162.7},{"f":831.1,"g":-165.6},{"f":834.4,"g":-163.8},{"f":839.3,"g":-161.1},{"f":844.3,"g":-164.3},{"f":850.8,"g":-168.6},{"f":857.4,"g":-172.3},{"f":862.3,"g":-173.1},{"f":867.2,"g":-169.6},{"f":872.1,"g":-165.9},{"f":877,"g":-168.6},{"f":882,"g":-170.2},{"f":888.5,"g":-171.8},{"f":895.1,"g":-172.0},{"f":901.6,"g":-173.6},{"f":909.8,"g":-172.8},{"f":916.4,"g":-171.8},{"f":923,"g":-170.7},{"f":929.5,"g":-169.1},{"f":936.1,"g":-168.6},{"f":942.6,"g":-168.6},{"f":947.5,"g":-170.9},{"f":952.5,"g":-170.2},{"f":957.4,"g":-170.2},{"f":962.3,"g":-171.8},{"f":967.2,"g":-173.4},{"f":972.1,"g":-175.5},{"f":978.7,"g":-176},{"f":983.6,"g":-173.9},{"f":990.2,"g":-171.5},{"f":995.1,"g":-172.3},{"f":1000,"g":-171.2}]
},
"vconcat":[
{"hconcat":[
 {"width":544,"height":212,"resolve":{"axis":{"x":"independent","y":"independent"}},
  "layer":[
   {"encoding":{"x":{"field":"f","type":"quantitative","scale":{"domain":[120,160],"nice":false,"zero":false},"axis":{"values":[120,130,140,150,160],"tickSize":-7,"labelPadding":12,"title":null,"labelExpr":"toString(datum.value)"}},
                "y":{"field":"g","type":"quantitative","scale":{"domain":[-136.17,-130],"nice":false,"zero":false},"axis":{"values":[-136,-134,-132,-130],"tickSize":-7,"labelPadding":12,"labelExpr":"toString(datum.value)","title":"Gain [dB]","titleX":-66,"titleY":106,"titleAngle":270,"titleAlign":"center","titleBaseline":"middle"}}},
    "layer":[
     {"data":{"name":"mr"},"mark":{"type":"line","color":"#D95319","strokeWidth":2,"clip":true}},
     {"data":{"name":"mb"},"mark":{"type":"line","color":"#0072BD","strokeWidth":2,"clip":true}},
     {"data":{"name":"mg"},"mark":{"type":"line","color":"#77AC30","strokeWidth":2,"clip":true}},
     {"data":{"name":"mt"},"mark":{"type":"line","color":"#1a1a1a","strokeWidth":1.5,"strokeDash":[12,8],"clip":true}}
    ]},
   {"data":{"values":[{"f":140,"g":-133}]},"mark":{"type":"point","opacity":0},
    "encoding":{"x":{"field":"f","type":"quantitative","scale":{"domain":[120,160],"nice":false,"zero":false},"axis":{"orient":"top","values":[120,130,140,150,160],"tickSize":-7,"labels":false,"grid":false,"title":null}},
                "y":{"field":"g","type":"quantitative","scale":{"domain":[-136.17,-130],"nice":false,"zero":false},"axis":{"orient":"right","values":[-136,-134,-132,-130],"tickSize":-7,"labels":false,"grid":false,"title":null}}}}
  ]},
 {"width":548,"height":212,"resolve":{"axis":{"x":"independent","y":"independent"}},
  "layer":[
   {"encoding":{"x":{"field":"f","type":"quantitative","scale":{"domain":[470,545],"nice":false,"zero":false},"axis":{"values":[470,495,520,545],"tickSize":-7,"labelPadding":12,"title":null,"labelExpr":"toString(datum.value)"}},
                "y":{"field":"g","type":"quantitative","scale":{"domain":[-150,-130],"nice":false,"zero":false},"axis":{"values":[-150,-145,-140,-135,-130],"tickSize":-7,"labelPadding":12,"title":null,"labelExpr":"toString(datum.value)"}}},
    "layer":[
     {"data":{"name":"mr"},"mark":{"type":"line","color":"#D95319","strokeWidth":2,"clip":true}},
     {"data":{"name":"mb"},"mark":{"type":"line","color":"#0072BD","strokeWidth":2,"clip":true}},
     {"data":{"name":"mg"},"mark":{"type":"line","color":"#77AC30","strokeWidth":2,"clip":true}},
     {"data":{"name":"mt"},"mark":{"type":"line","color":"#1a1a1a","strokeWidth":1.5,"strokeDash":[12,8],"clip":true}}
    ]},
   {"data":{"values":[{"f":500,"g":-140}]},"mark":{"type":"point","opacity":0},
    "encoding":{"x":{"field":"f","type":"quantitative","scale":{"domain":[470,545],"nice":false,"zero":false},"axis":{"orient":"top","values":[470,495,520,545],"tickSize":-7,"labels":false,"grid":false,"title":null}},
                "y":{"field":"g","type":"quantitative","scale":{"domain":[-150,-130],"nice":false,"zero":false},"axis":{"orient":"right","values":[-150,-145,-140,-135,-130],"tickSize":-7,"labels":false,"grid":false,"title":null}}}}
  ]}
 ],"spacing":11},
{"vconcat":[
{"width":1140,"height":384,"resolve":{"axis":{"x":"independent","y":"independent"}},
 "layer":[
  {"encoding":{"x":{"field":"f","type":"quantitative","scale":{"domain":[0,1000],"nice":false,"zero":false},"axis":{"values":[0,100,200,300,400,500,600,700,800,900,1000],"tickSize":-11,"labelPadding":16,"title":null,"labelExpr":"toString(datum.value)"}},
               "y":{"field":"g","type":"quantitative","scale":{"domain":[-180,-120],"nice":false,"zero":false},"axis":{"values":[-180,-170,-160,-150,-140,-130,-120],"tickSize":-11,"labelPadding":15,"labelExpr":"toString(datum.value)","title":"Gain [dB]","titleX":-66,"titleY":192,"titleAngle":270,"titleAlign":"center","titleBaseline":"middle"}}},
   "layer":[
    {"data":{"values":[{"f":120,"f2":160,"g":-136.9,"g2":-129},{"f":470.3,"f2":545,"g":-148,"g2":-131}]},"mark":{"type":"rect","fill":"#e4e7eb","fillOpacity":0.55,"stroke":"#6e6e6e","strokeWidth":1},"encoding":{"x2":{"field":"f2"},"y2":{"field":"g2"}}},
    {"data":{"name":"mr"},"mark":{"type":"line","color":"#D95319","strokeWidth":2,"clip":true}},
    {"data":{"name":"mb"},"mark":{"type":"line","color":"#0072BD","strokeWidth":2,"clip":true}},
    {"data":{"name":"mg"},"mark":{"type":"line","color":"#77AC30","strokeWidth":2,"clip":true}},
    {"data":{"name":"mt"},"mark":{"type":"line","color":"#1a1a1a","strokeWidth":1.5,"strokeDash":[10,6],"clip":true}},
    {"data":{"values":[{"f":333.3,"g":-133.3,"g2":-180}]},"mark":{"type":"rule","color":"#808080","strokeWidth":1.5,"strokeDash":[16,8]},"encoding":{"y2":{"field":"g2"}}},
    {"data":{"values":[{"f":333.3,"g":-121.6}]},"mark":{"type":"text","text":"Nyquist","angle":270,"align":"right","baseline":"middle","font":"Liberation Serif","fontSize":21,"color":"#262626"}},
    {"data":{"values":[{"f":120,"g":-129,"f2":0,"g2":-114.6},{"f":160,"g":-129,"f2":477.2,"g2":-114.6},{"f":470.3,"g":-131,"f2":519.3,"g2":-114.6},{"f":545,"g":-131,"f2":1000,"g2":-114.6}]},"mark":{"type":"rule","color":"#262626","strokeWidth":0.8,"clip":false},"encoding":{"x2":{"field":"f2"},"y2":{"field":"g2"}}}
   ]},
  {"data":{"values":[{"f":500,"g":-150}]},"mark":{"type":"point","opacity":0},
   "encoding":{"x":{"field":"f","type":"quantitative","scale":{"domain":[0,1000],"nice":false,"zero":false},"axis":{"orient":"top","values":[0,100,200,300,400,500,600,700,800,900,1000],"tickSize":-11,"labels":false,"grid":false,"title":null}},
               "y":{"field":"g","type":"quantitative","scale":{"domain":[-180,-120],"nice":false,"zero":false},"axis":{"orient":"right","values":[-180,-170,-160,-150,-140,-130,-120],"tickSize":-11,"labels":false,"grid":false,"title":null}}}}
 ]},
{"width":1140,"height":185,"resolve":{"axis":{"x":"independent","y":"independent"}},
 "layer":[
  {"encoding":{"x":{"field":"f","type":"quantitative","scale":{"domain":[0,1000],"nice":false,"zero":false},"axis":{"values":[0,100,200,300,400,500,600,700,800,900,1000],"tickSize":-11,"labelPadding":16,"title":null,"labelExpr":"toString(datum.value)"}},
               "y":{"field":"g","type":"quantitative","scale":{"domain":[-50,40],"nice":false,"zero":false},"axis":{"values":[-40,-20,0,20,40],"tickSize":-11,"labelPadding":15,"labelExpr":"toString(datum.value)","title":"Rel. FRF Error [dB]","titleX":-66,"titleY":92.5,"titleAngle":270,"titleAlign":"center","titleBaseline":"middle"}}},
   "layer":[
    {"data":{"name":"er"},"mark":{"type":"line","color":"#D95319","strokeWidth":2,"clip":true}},
    {"data":{"name":"eg"},"mark":{"type":"line","color":"#77AC30","strokeWidth":2,"clip":true}},
    {"data":{"name":"eb"},"mark":{"type":"line","color":"#0072BD","strokeWidth":2,"clip":true}},
    {"data":{"values":[{"f":333.3,"g":40,"g2":-50}]},"mark":{"type":"rule","color":"#808080","strokeWidth":1.5,"strokeDash":[16,8]},"encoding":{"y2":{"field":"g2"}}}
   ]},
  {"data":{"values":[{"f":500,"g":0}]},"mark":{"type":"point","opacity":0},
   "encoding":{"x":{"field":"f","type":"quantitative","scale":{"domain":[0,1000],"nice":false,"zero":false},"axis":{"orient":"top","values":[0,100,200,300,400,500,600,700,800,900,1000],"tickSize":-11,"labels":false,"grid":false,"title":null}},
               "y":{"field":"g","type":"quantitative","scale":{"domain":[-50,40],"nice":false,"zero":false},"axis":{"orient":"right","values":[-40,-20,0,20,40],"tickSize":-11,"labels":false,"grid":false,"title":null}}}}
 ]},
{"width":1140,"height":187,"resolve":{"axis":{"x":"independent","y":"independent"}},
 "layer":[
  {"encoding":{"x":{"field":"f","type":"quantitative","scale":{"domain":[0,1000],"nice":false,"zero":false},"axis":{"values":[0,100,200,300,400,500,600,700,800,900,1000],"tickSize":-11,"labelPadding":16,"labelExpr":"toString(datum.value)","title":"Frequency [Hz]","titleY":37,"titleBaseline":"middle"}},
               "y":{"field":"g","type":"quantitative","scale":{"domain":[-175,-145],"nice":false,"zero":false},"axis":{"values":[-170,-160,-150],"tickSize":-11,"labelPadding":15,"labelExpr":"toString(datum.value)","title":"Std. Dev. √var(Ĝ(Ωₖ)) [dB]","titleX":-66,"titleY":93.5,"titleAngle":270,"titleAlign":"center","titleBaseline":"middle"}}},
   "layer":[
    {"data":{"name":"sg"},"mark":{"type":"line","color":"#77AC30","strokeWidth":2,"clip":true}},
    {"data":{"name":"sb"},"mark":{"type":"line","color":"#0072BD","strokeWidth":2,"clip":true}},
    {"data":{"values":[{"f":333.3,"g":-145,"g2":-175}]},"mark":{"type":"rule","color":"#808080","strokeWidth":1.5,"strokeDash":[16,8]},"encoding":{"y2":{"field":"g2"}}}
   ]},
  {"data":{"values":[{"f":500,"g":-160}]},"mark":{"type":"point","opacity":0},
   "encoding":{"x":{"field":"f","type":"quantitative","scale":{"domain":[0,1000],"nice":false,"zero":false},"axis":{"orient":"top","values":[0,100,200,300,400,500,600,700,800,900,1000],"tickSize":-11,"labels":false,"grid":false,"title":null}},
               "y":{"field":"g","type":"quantitative","scale":{"domain":[-175,-145],"nice":false,"zero":false},"axis":{"orient":"right","values":[-170,-160,-150],"tickSize":-11,"labels":false,"grid":false,"title":null}}}}
 ]}
],"spacing":8.5}
],
"spacing":-22
}
